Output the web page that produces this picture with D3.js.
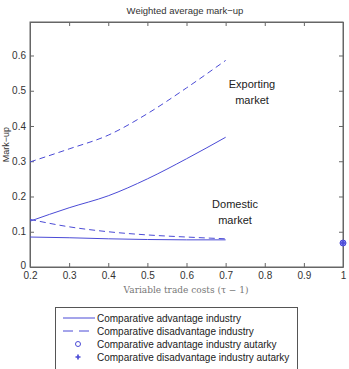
<!DOCTYPE html>
<html>
<head>
<meta charset="utf-8">
<script src="https://cdn.jsdelivr.net/npm/d3@7"></script>
<style>
body { margin: 0; background: #fff; }
svg { font-family: Arial, "Liberation Sans", sans-serif; }
</style>
</head>
<body>
<div id="chart"></div>
<script>
// trade costs (tau - 1)
const tradeCosts = [0.2, 0.3, 0.4, 0.5, 0.6, 0.7];
// exporting market
const advExport = [0.13, 0.168, 0.202, 0.25, 0.307, 0.368];
const disExport = [0.298, 0.335, 0.374, 0.435, 0.508, 0.586];
// domestic market
const advDomestic = [0.085, 0.083, 0.080, 0.078, 0.077, 0.077];
const disDomestic = [0.135, 0.114, 0.100, 0.091, 0.085, 0.080];
// autarky
const autarkyX = 1;
const advAutarky = 0.068;
const disAutarky = 0.068;

const xTicks = [0.2, 0.3, 0.4, 0.5, 0.6, 0.7, 0.8, 0.9, 1];
const yTicks = [0, 0.1, 0.2, 0.3, 0.4, 0.5, 0.6];
const legendLabels = ["Comparative advantage industry", "Comparative disadvantage industry",
  "Comparative advantage industry autarky", "Comparative disadvantage industry autarky"];

const width = 349, height = 369,
margin = { top: 22, bottom: 102, left: 30, right: 6 };

const blue = "#4b4bd6";
const axisCol = "#666";

const svg = d3.select("#chart").append("svg")
.attr("width", width)
.attr("height", height);

const xScale = d3.scaleLinear()
.domain([0.2, 1])
.range([margin.left, width - margin.right]);

const yScale = d3.scaleLinear()
.domain([0, 0.695])
.range([height - margin.bottom, margin.top]);

// box
svg.append("rect")
.attr("x", margin.left)
.attr("y", margin.top)
.attr("width", xScale(1) - margin.left)
.attr("height", yScale(0) - margin.top)
.attr("fill", "none")
.attr("stroke", axisCol);

// axes, ticks inside
const fmt = d => d === 1 ? "1" : d === 0 ? "0" : d3.format(".1f")(d);
const xAxis = svg.append("g")
.attr("transform", `translate(0,${yScale(0)})`)
.call(d3.axisBottom(xScale).tickValues(xTicks).tickSizeInner(-4).tickSizeOuter(0).tickPadding(5).tickFormat(fmt));
const xAxisTop = svg.append("g")
.attr("transform", `translate(0,${margin.top})`)
.call(d3.axisTop(xScale).tickValues(xTicks).tickSizeInner(-4).tickSizeOuter(0).tickFormat(""));
const yAxis = svg.append("g")
.attr("transform", `translate(${margin.left},0)`)
.call(d3.axisLeft(yScale).tickValues(yTicks).tickSizeInner(-4).tickSizeOuter(0).tickPadding(4).tickFormat(fmt));
const yAxisRight = svg.append("g")
.attr("transform", `translate(${xScale(1)},0)`)
.call(d3.axisRight(yScale).tickValues(yTicks).tickSizeInner(-4).tickSizeOuter(0).tickFormat(""));

[xAxis, xAxisTop, yAxis, yAxisRight].forEach(a => {
  a.select(".domain").attr("stroke", axisCol);
  a.selectAll("line").attr("stroke", axisCol);
  a.selectAll("text").attr("fill", "#333").style("font-size", "10px").style("font-family", "Arial, sans-serif");
});
// the 0 label sits a little higher, as in the reference
yAxis.selectAll(".tick text").filter(d => d === 0).attr("dy", "0.1em");

// title and labels
svg.append("text")
.text("Weighted average mark\u2212up")
.attr("x", 185)
.attr("y", 14)
.attr("text-anchor", "middle")
.style("font-size", "9.5px")
.style("fill", "#333");

svg.append("text")
.text("Mark\u2212up")
.attr("transform", `translate(9,${(margin.top + yScale(0)) / 2}) rotate(-90)`)
.attr("text-anchor", "middle")
.style("font-size", "9px")
.style("fill", "#333");

svg.append("text")
.attr("x", 186)
.attr("y", 293)
.attr("text-anchor", "middle")
.style("font-family", "'DejaVu Serif', 'Liberation Serif', serif")
.style("font-size", "9px")
.style("fill", "#777")
.text("Variable trade costs (\u03c4 \u2212 1)");

// lines
const line = d3.line()
.x((d, i) => xScale(tradeCosts[i]))
.y(d => yScale(d))
.curve(d3.curveMonotoneX);

const series = [
  { v: advExport, dash: null },
  { v: disExport, dash: "6,4" },
  { v: advDomestic, dash: null },
  { v: disDomestic, dash: "6,4" }
];
svg.append("g").selectAll("path")
.data(series)
.enter()
.append("path")
.attr("d", d => line(d.v))
.attr("fill", "none")
.attr("stroke", blue)
.attr("stroke-width", 1)
.attr("stroke-dasharray", d => d.dash);

// autarky markers
svg.append("circle")
.attr("cx", xScale(autarkyX))
.attr("cy", yScale(advAutarky))
.attr("r", 3)
.attr("fill", "#8080f0")
.attr("stroke", blue);
svg.append("path")
.attr("d", d3.symbol(d3.symbolCross, 14)())
.attr("transform", `translate(${xScale(autarkyX)},${yScale(disAutarky)})`)
.attr("fill", blue);

// annotations
const notes = [
  { t: ["Exporting", "market"], x: 252, y: 88 },
  { t: ["Domestic", "market"], x: 235, y: 208 }
];
notes.forEach(n => {
  n.t.forEach((s, i) => {
    svg.append("text")
    .text(s)
    .attr("x", n.x)
    .attr("y", n.y + i * 16)
    .attr("text-anchor", "middle")
    .style("font-size", "11px")
    .style("fill", "#222");
  });
});

// legend
const lg = svg.append("g");
lg.append("rect")
.attr("x", 55.5)
.attr("y", 307.5)
.attr("width", 242)
.attr("height", 66)
.attr("fill", "#fff")
.attr("stroke", "#555");

legendLabels.forEach((lab, i) => {
  const yy = 318 + i * 13;
  if (i < 2) {
    lg.append("line")
    .attr("x1", 63).attr("x2", 95)
    .attr("y1", yy).attr("y2", yy)
    .attr("stroke", blue)
    .attr("stroke-dasharray", i === 1 ? "10,6" : null);
  } else if (i === 2) {
    lg.append("circle")
    .attr("cx", 78).attr("cy", yy).attr("r", 2.5)
    .attr("fill", "none").attr("stroke", blue);
  } else {
    lg.append("path")
    .attr("d", d3.symbol(d3.symbolCross, 14)())
    .attr("transform", `translate(78,${yy})`)
    .attr("fill", blue);
  }
  lg.append("text")
  .text(lab)
  .attr("x", 97)
  .attr("y", yy + 3.5)
  .style("font-size", "10px")
  .style("fill", "#222");
});
</script>
</body>
</html>
